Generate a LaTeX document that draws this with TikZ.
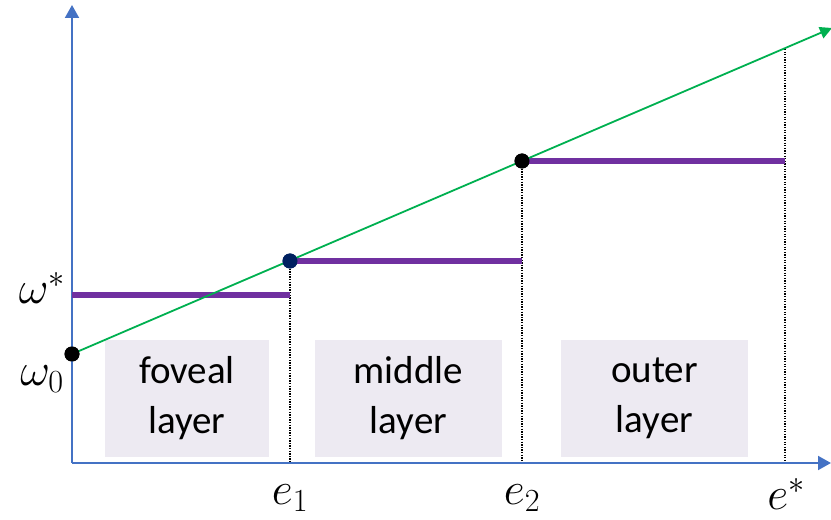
\RequirePackage{fix-cm}
\documentclass[tikz,border=0pt]{standalone}
\usepackage[no-math]{fontspec}
\setmainfont{Carlito}
\usetikzlibrary{arrows.meta}
\definecolor{axisblue}{HTML}{4472C4}
\definecolor{linegreen}{HTML}{00B050}
\definecolor{levelpurple}{HTML}{7030A0}
\definecolor{dotnavy}{HTML}{002060}
\definecolor{boxgray}{HTML}{EDEAF2}
\begin{document}
\begin{tikzpicture}[x=1pt, y=1pt,
  axis/.style={draw=axisblue, line width=2pt, -{Triangle[length=13pt, width=14pt]}},
  level/.style={draw=levelpurple, line width=6pt},
  guide/.style={draw=black, line width=1.8pt, dash pattern=on 1.3pt off 1.3pt},
  layerbox/.style={fill=boxgray, minimum height=117pt, inner sep=0pt, align=center, font=\fontsize{39}{50}\selectfont},
  knot/.style={circle, fill, inner sep=0pt, minimum size=15pt},
  lbl/.style={inner sep=0pt, font=\fontsize{46}{50}\selectfont}]
\useasboundingbox (0,0) rectangle (831,520);
% layers
\node[layerbox, minimum width=164pt] (fov) at (187,121.5){foveal\\layer};
\node[layerbox, minimum width=187pt] (mid) at (408.5,121.5){middle\\layer};
\node[layerbox, minimum width=187pt] (out) at (654.5,121.5){outer\\layer};
% points on the line
\node[knot] (w0) at (72,166){};
\node[knot, dotnavy] (p1) at (290,259){};
\node[knot] (p2) at (522,359){};
\coordinate (o) at (72,57);
\coordinate (ytop) at (72,515);
\coordinate (xend) at (831,57);
\coordinate (gend) at (832,492);
\coordinate (q0) at (72,225);
\coordinate (q1) at (290,225);
\coordinate (q2) at (522,259);
\coordinate (b1) at (290,57);
\coordinate (b2) at (522,57);
\coordinate (q3) at (785,359);
\coordinate (t3) at (785,471);
\coordinate (b3) at (785,57);
% guides
\draw[guide](p1) -- (b1);
\draw[guide](p2) -- (b2);
\draw[guide](t3) -- (b3);
% axes
\draw[axis](o) -- (ytop);
\draw[axis](o) -- (xend);
% levels
\draw[level](q0) -- (q1);
\draw[level](p1.center) -- (q2);
\draw[level](p2.center) -- (q3);
% line
\draw[draw=linegreen, line width=1.8pt, -{Triangle[length=12pt, width=12pt]}](w0.center) -- (gend);
\node[knot] at (w0){};
\node[knot, dotnavy] at (p1){};
\node[knot] at (p2){};
% labels
\node[lbl] (lws) at (42,232){$\omega^*$};
\node[lbl] (lw0) at (42,141){$\omega_0$};
\node[lbl] (le1) at (290,22){$e_1$};
\node[lbl] (le2) at (522,22){$e_2$};
\node[lbl] (les) at (786,26){$e^*$};
\end{tikzpicture}
\end{document}
